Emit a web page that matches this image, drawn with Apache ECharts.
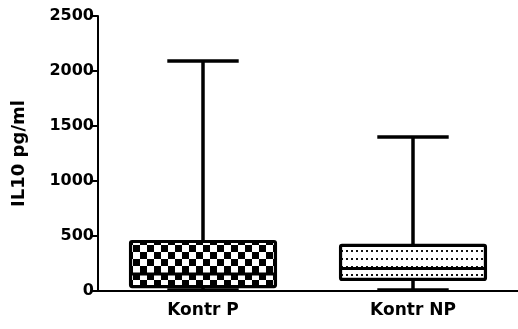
<!DOCTYPE html>
<html>
<head>
<meta charset="utf-8">
<script src="https://cdn.jsdelivr.net/npm/echarts@6/dist/echarts.min.js"></script>
<style>
  html, body { margin: 0; padding: 0; background: #fff; }
  #chart { width: 518px; height: 329px; }
</style>
</head>
<body>
<div id="chart"></div>
<script>
// Box-and-whisker summary of IL10 concentration per group
const categories = ['Kontr P', 'Kontr NP'];
const minVals    = [10, 10];
const q1Vals     = [40, 105];
const medianVals = [155, 205];
const q3Vals     = [450, 415];
const maxVals    = [2090, 1400];
const yTicks     = [0, 500, 1000, 1500, 2000, 2500];

const FONT = 'DejaVu Sans';

// Fill textures for the boxes
function checkerPattern(cell) {
  const c = document.createElement('canvas');
  c.width = c.height = cell * 2;
  const g = c.getContext('2d');
  g.fillStyle = '#fff';
  g.fillRect(0, 0, c.width, c.height);
  g.fillStyle = '#000';
  g.fillRect(0, 0, cell, cell);
  g.fillRect(cell, cell, cell, cell);
  return { image: c, repeat: 'repeat' };
}
function dotPattern(dx, dy, size) {
  const c = document.createElement('canvas');
  c.width = dx; c.height = dy;
  const g = c.getContext('2d');
  g.fillStyle = '#fff';
  g.fillRect(0, 0, dx, dy);
  g.fillStyle = '#111';
  g.fillRect(1, 2, size, size);
  return { image: c, repeat: 'repeat' };
}
const fills = [checkerPattern(7), dotPattern(5, 8, 2)];

const seriesData = categories.map((c, i) =>
  [i, minVals[i], q1Vals[i], medianVals[i], q3Vals[i], maxVals[i]]);

function renderItem(params, api) {
  const i = api.value(0);
  const lo  = api.coord([i, api.value(1)]);
  const q1  = api.coord([i, api.value(2)]);
  const med = api.coord([i, api.value(3)]);
  const q3  = api.coord([i, api.value(4)]);
  const hi  = api.coord([i, api.value(5)]);
  const band = api.size([1, 0])[0];
  const halfBox = band * 0.345;
  const halfCap = band * 0.17;
  const cx = lo[0];
  const line = { stroke: '#000', lineWidth: 3.5, lineCap: 'butt' };
  return {
    type: 'group',
    children: [
      { type: 'line', shape: { x1: cx, y1: lo[1], x2: cx, y2: hi[1] }, style: line },
      { type: 'line', shape: { x1: cx - halfCap, y1: hi[1], x2: cx + halfCap, y2: hi[1] }, style: line },
      { type: 'line', shape: { x1: cx - halfCap, y1: lo[1], x2: cx + halfCap, y2: lo[1] }, style: line },
      { type: 'rect',
        shape: { x: cx - halfBox, y: q3[1], width: halfBox * 2, height: q1[1] - q3[1], r: 1.5 },
        style: { fill: fills[params.dataIndex], stroke: '#000', lineWidth: 3.2, lineJoin: 'round' } },
      { type: 'line', shape: { x1: cx - halfBox, y1: med[1], x2: cx + halfBox, y2: med[1] }, style: { stroke: '#000', lineWidth: 3 } }
    ]
  };
}

const chart = echarts.init(document.getElementById('chart'), null, { renderer: 'canvas' });
chart.setOption({
  animation: false,
  backgroundColor: '#fff',
  grid: { left: 98, right: -2, top: 16, bottom: 38, containLabel: false },
  xAxis: {
    type: 'category',
    data: categories,
    boundaryGap: true,
    axisLine: { lineStyle: { color: '#000', width: 2 } },
    axisTick: { alignWithLabel: true, length: 9, lineStyle: { color: '#000', width: 3 } },
    axisLabel: { color: '#000', fontFamily: FONT, fontWeight: 'bold', fontSize: 17, margin: 11 },
    splitLine: { show: false }
  },
  yAxis: {
    type: 'value',
    min: yTicks[0],
    max: yTicks[yTicks.length - 1],
    interval: yTicks[1] - yTicks[0],
    name: 'IL10 pg/ml',
    nameLocation: 'middle',
    nameGap: 70,
    nameRotate: 90,
    nameTextStyle: { color: '#000', fontFamily: FONT, fontWeight: 'bold', fontSize: 18 },
    axisLine: { show: true, lineStyle: { color: '#000', width: 2 } },
    axisTick: { show: true, length: 8, lineStyle: { color: '#000', width: 2 } },
    axisLabel: {
      color: '#000', fontFamily: FONT, fontWeight: 'bold', fontSize: 16, margin: 4,
      formatter: v => String(v)
    },
    splitLine: { show: false }
  },
  series: [{
    type: 'custom',
    renderItem: renderItem,
    encode: { x: 0, y: [1, 2, 3, 4, 5] },
    data: seriesData,
    clip: false
  }]
});
</script>
</body>
</html>
